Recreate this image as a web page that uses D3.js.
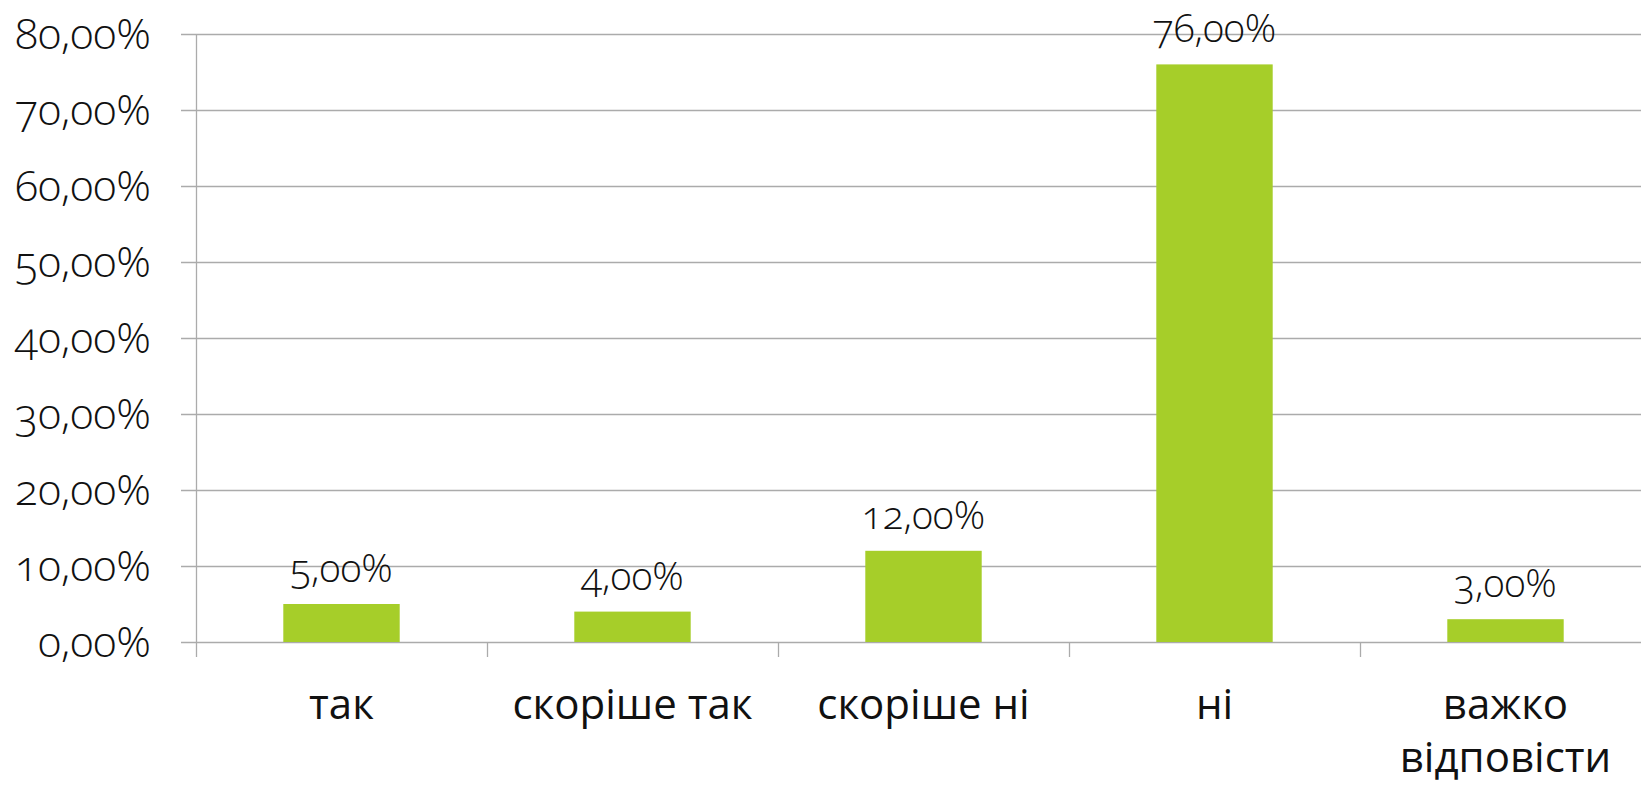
<!DOCTYPE html>
<html>
<head>
<meta charset="utf-8">
<script src="https://cdnjs.cloudflare.com/ajax/libs/d3/7.8.5/d3.min.js"></script>
<style>
  html, body { margin: 0; padding: 0; background: #fff; overflow: hidden; }
  svg { display: block; }
  .num { font-family: "Open Sans", "Noto Sans", sans-serif; font-weight: 300; font-variant-numeric: oldstyle-nums; }
  .cat { font-family: "Open Sans", "Noto Sans", sans-serif; }
</style>
</head>
<body>
<svg id="chart" width="1641" height="785"></svg>
<script>
const categories = ["так", "скоріше так", "скоріше ні", "ні", "важко відповісти"];
const categoryLines = [["так"], ["скоріше так"], ["скоріше ні"], ["ні"], ["важко", "відповісти"]];
const values = [0.05, 0.04, 0.12, 0.76, 0.03];
const yTicks = [0, 0.1, 0.2, 0.3, 0.4, 0.5, 0.6, 0.7, 0.8];

(function () {
const W = 1641, H = 785;
const plotLeft = 196, plotTop = 34, plotBottom = 642, bandW = 291;
const svg = d3.select("#chart");

const locale = d3.formatLocale({decimal: ",", thousands: " ", grouping: [3], currency: ["", ""], percent: "%"});
const fmt = locale.format(".2%");

const x = d3.scaleBand().domain(categories).range([plotLeft, plotLeft + bandW * categories.length]).paddingInner(0.6).paddingOuter(0.3);
const y = d3.scaleLinear().domain([0, 0.8]).range([plotBottom, plotTop]);

const gridColor = "#ababab";

svg.append("g").selectAll("line").data(yTicks).join("line")
  .attr("x1", plotLeft - 15).attr("x2", W)
  .attr("y1", d => Math.round(y(d)) + 0.5).attr("y2", d => Math.round(y(d)) + 0.5)
  .attr("stroke", gridColor).attr("stroke-width", 1.3);

svg.append("line")
  .attr("x1", plotLeft + 0.5).attr("x2", plotLeft + 0.5)
  .attr("y1", plotTop).attr("y2", plotBottom + 15)
  .attr("stroke", gridColor).attr("stroke-width", 1.3);

const boundaries = d3.range(1, categories.length).map(i => x.range()[0] + i * bandW);
svg.append("g").selectAll("line").data(boundaries).join("line")
  .attr("x1", d => d + 0.5).attr("x2", d => d + 0.5)
  .attr("y1", plotBottom).attr("y2", plotBottom + 15)
  .attr("stroke", gridColor).attr("stroke-width", 1.3);

svg.append("g").selectAll("text").data(yTicks).join("text")
  .attr("class", "num")
  .attr("x", 151).attr("y", d => y(d))
  .attr("dy", "0.35em")
  .attr("text-anchor", "end")
  .attr("font-size", 43)
  .attr("fill", "#111")
  .text(d => fmt(d));

svg.append("g").selectAll("rect").data(values).join("rect")
  .attr("x", (d, i) => x(categories[i]))
  .attr("width", x.bandwidth())
  .attr("y", d => y(d))
  .attr("height", d => plotBottom - y(d))
  .attr("fill", "#a6ce29");

svg.append("g").selectAll("text").data(values).join("text")
  .attr("class", "num")
  .attr("x", (d, i) => x(categories[i]) + x.bandwidth() / 2)
  .attr("y", d => y(d) - 22)
  .attr("text-anchor", "middle")
  .attr("font-size", 39)
  .attr("fill", "#111")
  .text(d => fmt(d));

const catG = svg.append("g").selectAll("text").data(categories).join("text")
  .attr("class", "cat")
  .attr("x", d => x(d) + x.bandwidth() / 2)
  .attr("y", 719)
  .attr("text-anchor", "middle")
  .attr("font-size", 42)
  .attr("fill", "#111");
catG.each(function(d, i) {
  const t = d3.select(this);
  categoryLines[i].forEach((ln, j) => {
    t.append("tspan").attr("x", x(d) + x.bandwidth() / 2).attr("dy", j === 0 ? 0 : 53).text(ln);
  });
});
})();
</script>
</body>
</html>
